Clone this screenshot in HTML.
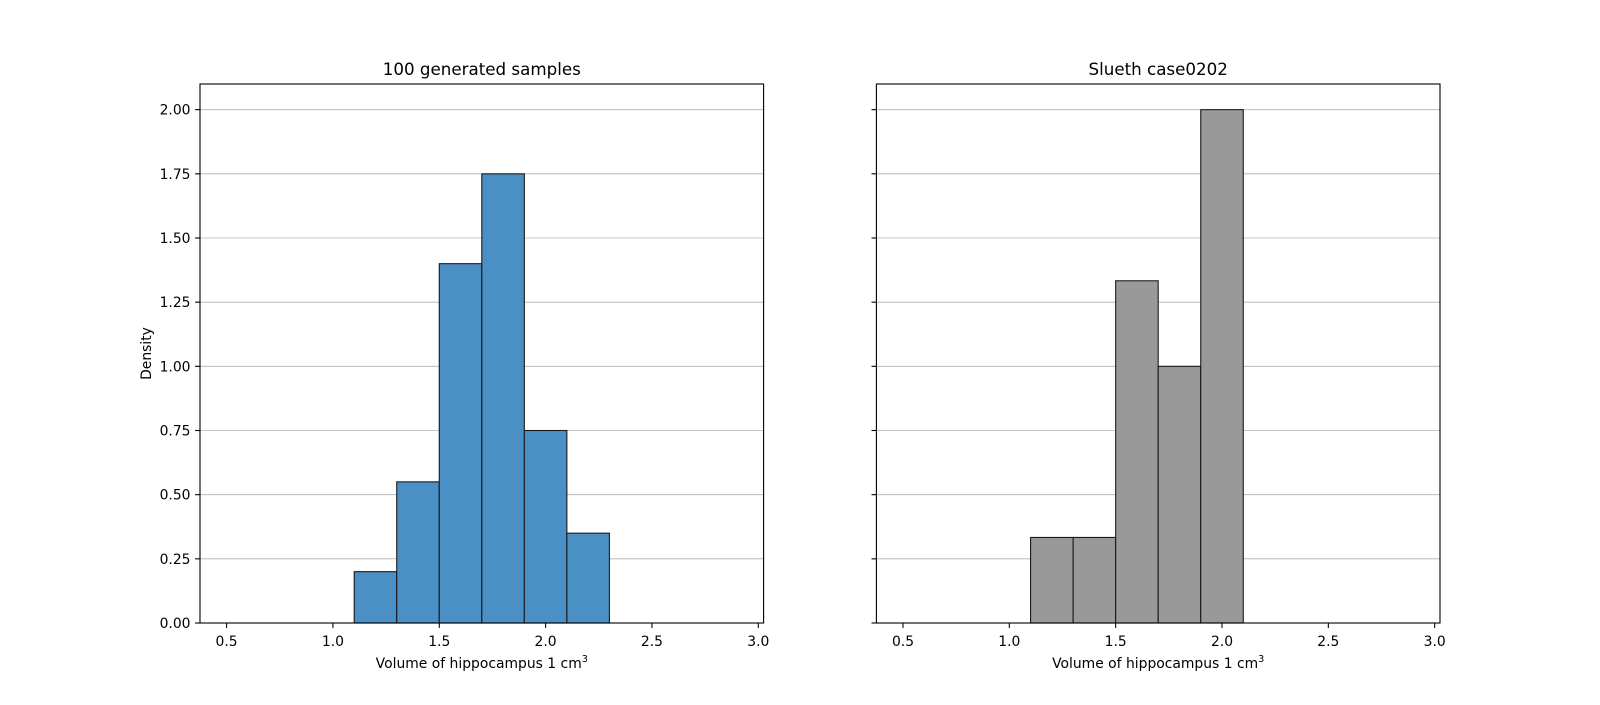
<!DOCTYPE html>
<html><head><meta charset="utf-8"><style>
html,body{margin:0;padding:0;background:#fff;}
svg text{font-family:"DejaVu Sans","Liberation Sans",sans-serif;fill:#000;}
</style></head><body>
<svg id="chart" width="1600" height="700" xmlns="http://www.w3.org/2000/svg"></svg>
<script>
const xTicks = [0.5, 1.0, 1.5, 2.0, 2.5, 3.0];
const xTickLabels = ["0.5","1.0","1.5","2.0","2.5","3.0"];
const yTicks = [0, 0.25, 0.5, 0.75, 1.0, 1.25, 1.5, 1.75, 2.0];
const yTickLabels = ["0.00","0.25","0.50","0.75","1.00","1.25","1.50","1.75","2.00"];
const leftEdges = [1.1, 1.3, 1.5, 1.7, 1.9, 2.1, 2.3];
const leftDensity = [0.2, 0.55, 1.4, 1.75, 0.75, 0.35];
const rightEdges = [1.1, 1.3, 1.5, 1.7, 1.9, 2.1];
const rightDensity = [0.3333, 0.3333, 1.3333, 1.0, 2.0];
const emptyRange = [0.5, 2.9];

const svgEl = document.getElementById('chart');
const NS = 'http://www.w3.org/2000/svg';
function mk(tag, attrs, parent){const e=document.createElementNS(NS,tag);for(const k in attrs)e.setAttribute(k,attrs[k]);(parent||svgEl).appendChild(e);return e;}

const axTop=84, axBottom=623, xmin=0.375, xmax=3.025, ymax=2.1;
function drawPanel(x0, x1, title, edges, vals, fill, showY, key){
  const g = mk('g',{});
  
  
  const X = v => x0 + (v-xmin)/(xmax-xmin)*(x1-x0);
  const Y = v => axBottom - v/ymax*(axBottom-axTop);
  yTicks.forEach((t,i)=>{
    const l = mk('line',{x1:x0,x2:x1,y1:Y(t),y2:Y(t),stroke:'#b0b0b0','stroke-width':0.8},g);
    
    
    const tk = mk('line',{x1:x0-4.9,x2:x0,y1:Y(t),y2:Y(t),stroke:'#000','stroke-width':1.1},g);
    
    
    if(showY){
      const tx = mk('text',{x:x0-9.5,y:Y(t)+5,'text-anchor':'end','font-size':13.9},g);
      tx.textContent = yTickLabels[i];
      
      
    }
  });
  const bl = mk('line',{x1:X(emptyRange[0]),x2:X(emptyRange[1]),y1:axBottom,y2:axBottom,stroke:'#222','stroke-width':1},g);
  
  
  vals.forEach((v,i)=>{
    const r = mk('rect',{x:X(edges[i]),y:Y(v),width:X(edges[i+1])-X(edges[i]),height:axBottom-Y(v),fill:fill,stroke:'#1a1a1a','stroke-width':1.1},g);
    
    
  });
  xTicks.forEach((t,i)=>{
    const tk = mk('line',{x1:X(t),x2:X(t),y1:axBottom,y2:axBottom+4.9,stroke:'#000','stroke-width':1.1},g);
    
    
    const tx = mk('text',{x:X(t),y:axBottom+23,'text-anchor':'middle','font-size':13.9},g);
    tx.textContent = xTickLabels[i];
    
    
  });
  const fr = mk('rect',{x:x0,y:axTop,width:x1-x0,height:axBottom-axTop,fill:'none',stroke:'#000','stroke-width':1.1},g);
  
  
  const tt = mk('text',{x:(x0+x1)/2,y:axTop-9,'text-anchor':'middle','font-size':16.7},g);
  tt.textContent = title;
  
  
  const xl = mk('text',{x:(x0+x1)/2,y:axBottom+45,'text-anchor':'middle','font-size':13.9},g);
  xl.textContent = 'Volume of hippocampus 1 cm';
  const sup = mk('tspan',{dy:-6,'font-size':9.7},xl);
  sup.textContent = '3';
  
  
  if(showY){
    const cy=(axTop+axBottom)/2;
    const yl = mk('text',{x:151,y:cy,'text-anchor':'middle','font-size':13.9,transform:'rotate(-90 151 '+cy+')'},g);
    yl.textContent = 'Density';
    
    
  }
}
drawPanel(200, 763.6, '100 generated samples', leftEdges, leftDensity, '#4a90c4', true, 'generated');
drawPanel(876.4, 1440, 'Slueth case0202', rightEdges, rightDensity, '#999999', false, 'slueth');
</script>
</body></html>
